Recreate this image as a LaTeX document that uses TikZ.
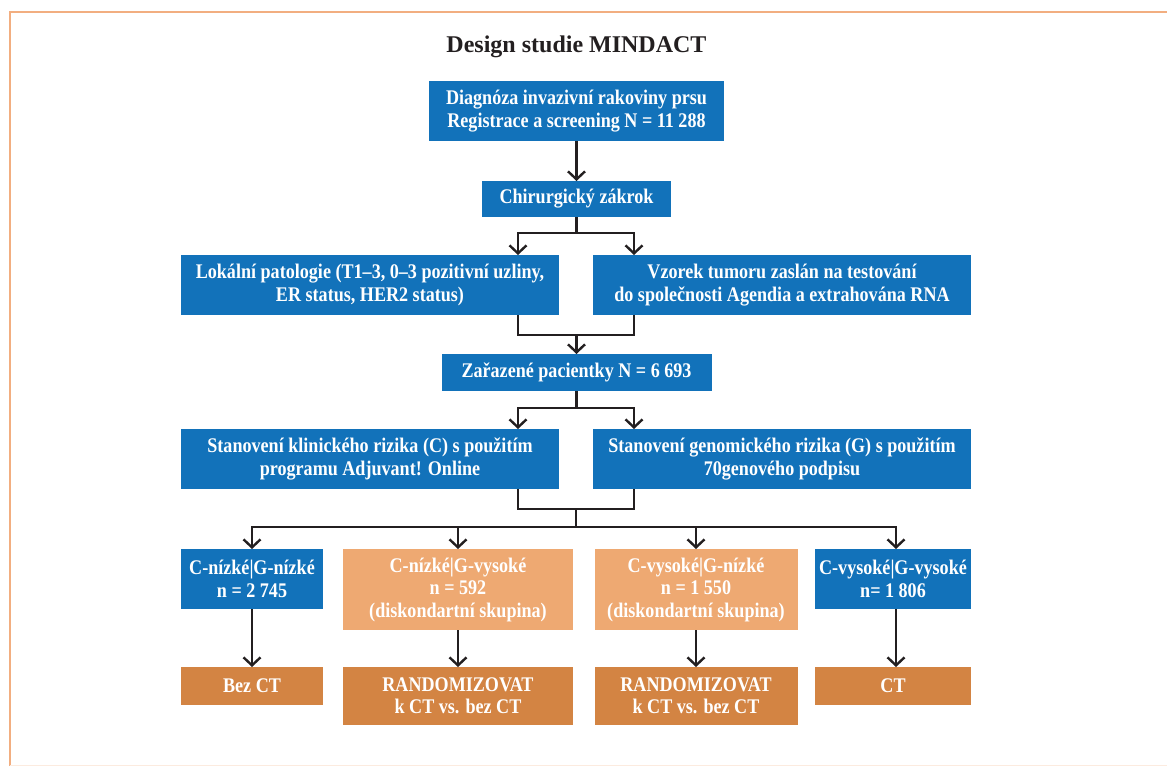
\documentclass[tikz,border=0pt]{standalone}
\usepackage{fontspec}
\setmainfont{Liberation Serif}
\newfontfamily\boxfont{Liberation Serif}[FakeStretch=0.87]
\usetikzlibrary{arrows.meta,calc}
\definecolor{cblue}{HTML}{1272BA}
\definecolor{clor}{HTML}{EEA972}
\definecolor{cdor}{HTML}{D38443}
\definecolor{cframe}{HTML}{F2AE80}
\definecolor{cline}{HTML}{231F20}
\tikzset{
  bx/.style={inner sep=0pt, outer sep=0pt, text=white, align=center,
    font=\boxfont\bfseries\fontsize{20.8}{22.5}\selectfont},
  bluebox/.style={bx, fill=cblue},
  lorbox/.style={bx, fill=clor},
  dorbox/.style={bx, fill=cdor},
  conn/.style={draw=cline, line width=2.4pt},
  arr/.style={conn, -{Straight Barb[length=8pt,width=17pt,line width=2.4pt]}},
}
\begin{document}
\begin{tikzpicture}[x=1pt,y=-1pt]
\path[use as bounding box, fill=white] (0,0) rectangle (1167,766);
\draw[cframe, line width=2pt] (10,766) -- (10,11.5) -- (1167,11.5);
\draw[cframe!25, line width=1pt] (10,765.5) -- (1167,765.5);

\node[font=\bfseries\fontsize{24}{28}\selectfont, text=cline] (title) at (576.5,47) {Design studie MINDACT};

\node[bluebox, minimum width=295pt, minimum height=60pt] (n1) at (576.5,111) {Diagnóza invazivní rakoviny prsu\\Registrace a screening N = 11 288};
\node[bluebox, minimum width=189pt, minimum height=36pt] (n2) at (576.5,199) {Chirurgický zákrok};
\node[bluebox, minimum width=378pt, minimum height=60pt] (n3l) at (370,285) {Lokální patologie (T1–3, 0–3 pozitivní uzliny,\\ER status, HER2 status)};
\node[bluebox, minimum width=378pt, minimum height=60pt] (n3r) at (782,285) {Vzorek tumoru zaslán na testování\\do společnosti Agendia a extrahována RNA};
\node[bluebox, minimum width=270pt, minimum height=37pt] (n4) at (576.5,372.5) {Zařazené pacientky N = 6 693};
\node[bluebox, minimum width=378pt, minimum height=60pt] (n5l) at (370,459) {Stanovení klinického rizika (C) s použitím\\programu Adjuvant! Online};
\node[bluebox, minimum width=378pt, minimum height=60pt] (n5r) at (782,459) {Stanovení genomického rizika (G) s použitím\\70genového podpisu};

\node[bluebox, minimum width=142pt, minimum height=60pt] (n6a) at (252,579) {C-nízké|G-nízké\\n = 2 745};
\node[lorbox, minimum width=230pt, minimum height=81pt] (n6b) at (458,589.5) {C-nízké|G-vysoké\\n = 592\\(diskondartní skupina)};
\node[lorbox, minimum width=203pt, minimum height=81pt] (n6c) at (696,589.5) {C-vysoké|G-nízké\\n = 1 550\\(diskondartní skupina)};
\node[bluebox, minimum width=156pt, minimum height=60pt] (n6d) at (893,579) {C-vysoké|G-vysoké\\n= 1 806};

\node[dorbox, minimum width=142pt, minimum height=38pt] (n7a) at (252,686) {Bez CT};
\node[dorbox, minimum width=230pt, minimum height=58pt] (n7b) at (458,696) {RANDOMIZOVAT\\k CT vs. bez CT};
\node[dorbox, minimum width=203pt, minimum height=58pt] (n7c) at (696,696) {RANDOMIZOVAT\\k CT vs. bez CT};
\node[dorbox, minimum width=156pt, minimum height=38pt] (n7d) at (893,686) {CT};

% connectors
\draw[arr] (n1.south) -- (n2.north);

\coordinate (s1) at ($(n2.south)+(0,16)$);
\coordinate (t3l) at ($(n3l.north east)+(-41,0)$);
\coordinate (t3r) at ($(n3r.north west)+(41,0)$);
\draw[conn] (n2.south) -- (s1);
\draw[arr] (s1) -| (t3l);
\draw[arr] (s1) -| (t3r);

\coordinate (b3l) at ($(n3l.south east)+(-41,0)$);
\coordinate (b3r) at ($(n3r.south west)+(41,0)$);
\coordinate (m3) at ($(n4.north)+(0,-19)$);
\draw[conn] (b3l) |- (m3) -| (b3r);
\draw[arr] (m3) -- (n4.north);

\coordinate (s4) at ($(n4.south)+(0,17)$);
\coordinate (t5l) at ($(n5l.north east)+(-41,0)$);
\coordinate (t5r) at ($(n5r.north west)+(41,0)$);
\draw[conn] (n4.south) -- (s4);
\draw[arr] (s4) -| (t5l);
\draw[arr] (s4) -| (t5r);

\coordinate (b5l) at ($(n5l.south east)+(-41,0)$);
\coordinate (b5r) at ($(n5r.south west)+(41,0)$);
\coordinate (m5) at ($(b5l)!0.5!(b5r)+(0,20)$);
\coordinate (s5) at ($(m5)+(0,18)$);
\draw[conn] (b5l) |- (m5) -| (b5r);
\draw[conn] (m5) -- (s5);
\draw[arr] (s5) -| (n6a.north);
\draw[arr] (s5) -| (n6b.north);
\draw[arr] (s5) -| (n6c.north);
\draw[arr] (s5) -| ($(n6d.north)+(3,0)$);

\draw[arr] (n6a.south) -- (n7a.north);
\draw[arr] (n6b.south) -- (n7b.north);
\draw[arr] (n6c.south) -- (n7c.north);
\draw[arr] ($(n6d.south)+(3,0)$) -- ($(n7d.north)+(3,0)$);
\end{tikzpicture}
\end{document}
